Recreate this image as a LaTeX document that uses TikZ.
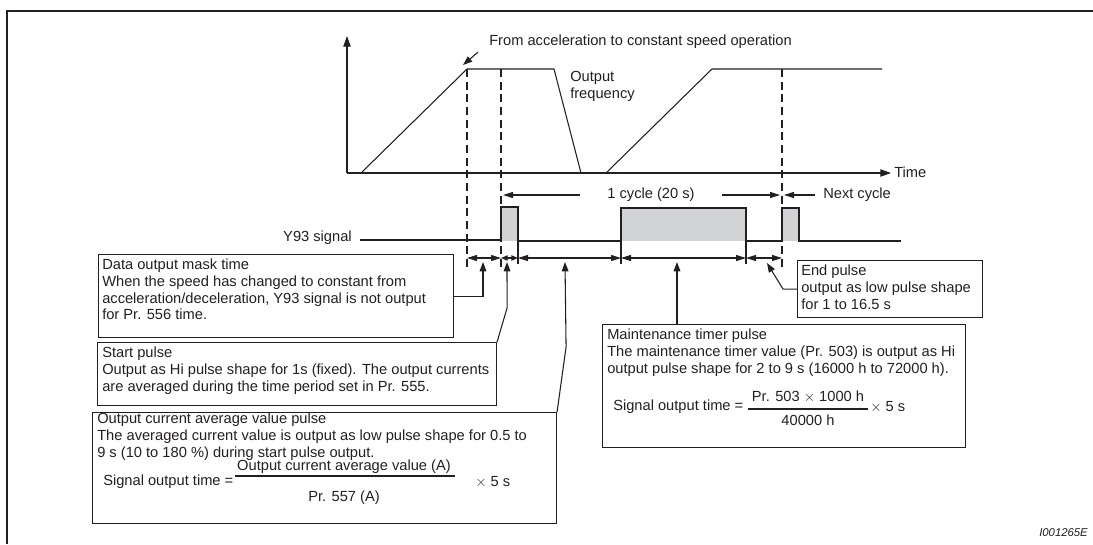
\documentclass[tikz,border=0pt]{standalone}
\usepackage{fontspec}
\setmainfont{Liberation Sans}
\usetikzlibrary{arrows.meta,positioning}

\definecolor{inkgray}{RGB}{35,31,32}
\definecolor{pulsegray}{RGB}{209,211,212}

\tikzset{
  wave/.style={draw=inkgray, line width=0.8pt},
  axis/.style={draw=inkgray, line width=0.8pt, -{Triangle[length=8pt,width=5.5pt]}},
  guide/.style={draw=inkgray, line width=0.8pt, dash pattern=on 6pt off 3.5pt},
  halfarrow/.style={draw=inkgray, line width=0.8pt, -{Triangle[length=7.5pt,width=4.5pt]}, shorten >=1.5pt},
  dimline/.style={draw=inkgray, line width=0.8pt, {Triangle[length=7.5pt,width=4.5pt]}-{Triangle[length=7.5pt,width=4.5pt]}},
  dimshort/.style={draw=inkgray, line width=0.8pt, {Triangle[length=5pt,width=4pt]}-{Triangle[length=5pt,width=4pt]}},
  pointer/.style={draw=inkgray, line width=0.8pt, -{Triangle[length=7pt,width=5pt]}},
  notebox/.style={draw=inkgray, line width=0.8pt, anchor=north west, inner sep=0pt},
  notetext/.style={anchor=north west, inner sep=0pt, align=left},
  plain/.style={inner sep=0pt}
}

\begin{document}
\begin{tikzpicture}[x=0.75pt, y=-0.75pt, font=\fontsize{11}{12.5}\selectfont, text=inkgray]
\useasboundingbox (0,0) rectangle (1093,544);

% Frame
\draw[inkgray, line width=2pt] (7,544) -- (7,11) -- (1093,11);

% Axes
\coordinate (origin) at (347,173);
\draw[axis] (origin) -- (347,36);
\draw[axis] (origin) -- (891,173);
\node[plain, anchor=west] (timelab) at (894,172) {Time};

% Output frequency
\coordinate (accel) at (467,69);
\draw[wave] (361,173) -- (accel) -- (554,69) -- (581,173);
\draw[wave] (606,173) -- (712,69) -- (882,69);
\node[notetext] (freqlab) at (570,71) {Output\\frequency};
\node[plain, anchor=west] (fromlab) at (489,42) {From acceleration to constant speed operation};
\draw[pointer] ([shift={(-11,3)}]fromlab.south west) -- ([shift={(-4,-4)}]accel);

% Guide lines
\foreach \x/\yb in {467/268, 501/268, 782/270}
  \draw[guide] (\x,69) -- (\x,\yb);

% Cycle
\coordinate (cycL) at (501,195);
\coordinate (cycR) at (782,195);
\node[inner xsep=20pt, inner ysep=0pt] (cyclab) at (651,195) {1 cycle (20 s)};
\draw[halfarrow] (cyclab) -- (cycL);
\draw[halfarrow] (cyclab) -- (cycR);
\node[plain, anchor=west] (nextlab) at (823,195) {Next cycle};
\draw[halfarrow] ([xshift=-6pt]nextlab.west) -- (cycR);

% Y93 signal
\node[plain, anchor=east] (ylab) at (352,238) {Y93 signal};
\fill[pulsegray] (501,207) rectangle (518,241);
\fill[pulsegray] (621,208) rectangle (746,241);
\fill[pulsegray] (782,208) rectangle (799,241);
\draw[wave] (360,240) -- (501,240) -- (501,207) -- (518,207) -- (518,241)
  -- (621,241) -- (621,208) -- (746,208) -- (746,241) -- (782,241)
  -- (782,208) -- (799,208) -- (799,241) -- (901,241);

% Time spans
\foreach \x in {518,621,746}
  \draw[wave] (\x,241) -- (\x,264);
\foreach \n/\x in {a/467,b/501,c/518,d/621,e/746,f/782}
  \coordinate (d\n) at (\x,258);
\draw[dimline] (da) -- (db);
\draw[dimshort] (db) -- (dc);
\foreach \s/\t in {dc/dd,dd/de,de/df}
  \draw[dimline] (\s) -- (\t);

% Boxes
\node[notebox, minimum width=266.25pt, minimum height=62.25pt] (mask) at (98,254) {};
\node[notetext] (masktxt) at ([shift={(4,5)}]mask.north west)
  {Data output mask time\\When the speed has changed to constant from\\acceleration/deceleration, Y93 signal is not output\\for Pr. 556 time.};

\node[notebox, minimum width=299.25pt, minimum height=47.25pt] (start) at (97,342) {};
\node[notetext] (starttxt) at ([shift={(5,5)}]start.north west)
  {Start pulse\\Output as Hi pulse shape for 1s (fixed). The output currents\\are averaged during the time period set in Pr. 555.};

\node[notebox, minimum width=348pt, minimum height=83.25pt] (avg) at (92,412) {};
\node[notetext] (avgtxt) at ([shift={(5,1)}]avg.north west)
  {Output current average value pulse\\The averaged current value is output as low pulse shape for 0.5 to\\9 s (10 to 180 \%) during start pulse output.};
\node[plain, anchor=west] (avgeq) at (103,482) {Signal output time =};
\node[plain] (avgnum) at (344,467) {Output current average value (A)};
\node[plain] (avgden) at (344,498) {Pr. 557 (A)};
\draw[wave] (235,476) -- (455,476);
\node[plain, anchor=west] (avgfac) at (475,482) {$\times$ 5 s};

\node[notebox, minimum width=272.25pt, minimum height=92.25pt] (maint) at (602,324) {};
\node[notetext] (mainttxt) at ([shift={(5,5)}]maint.north west)
  {Maintenance timer pulse\\The maintenance timer value (Pr. 503) is output as Hi\\output pulse shape for 2 to 9 s (16000 h to 72000 h).};
\node[plain, anchor=west] (mteq) at (613,407) {Signal output time =};
\node[plain] (mtnum) at (808,397) {Pr. 503 $\times$ 1000 h};
\node[plain] (mtden) at (808,420) {40000 h};
\draw[wave] (748,409) -- (868,409);
\node[plain, anchor=west] (mtfac) at (870,407) {$\times$ 5 s};

\node[notebox, minimum width=138.75pt, minimum height=42.75pt] (endp) at (797,260) {};
\node[notetext] (endtxt) at ([shift={(4,5)}]endp.north west)
  {End pulse\\output as low pulse shape\\for 1 to 16.5 s};

% Pointers
\coordinate (pMask) at (483,262);
\coordinate (pStart) at (507,262);
\coordinate (pAvg) at (565,262);
\coordinate (pMaint) at (677,262);
\coordinate (pEnd) at (767,263);
\draw[pointer] (mask.east) -| (pMask);
\draw[pointer] (start.north east) -- ++(10,-34) -- (pStart);
\draw[pointer] (avg.north east) -- ++(9,-65) -- (pAvg);
\draw[pointer] (maint.north -| pMaint) -- (pMaint);
\draw[pointer] (endp.west) -- ++(-14,0) -- (pEnd);

% Figure id
\node[plain, anchor=west, font=\itshape\fontsize{8.5}{10}\selectfont] (figid) at (1039,533) {I001265E};
\end{tikzpicture}
\end{document}
